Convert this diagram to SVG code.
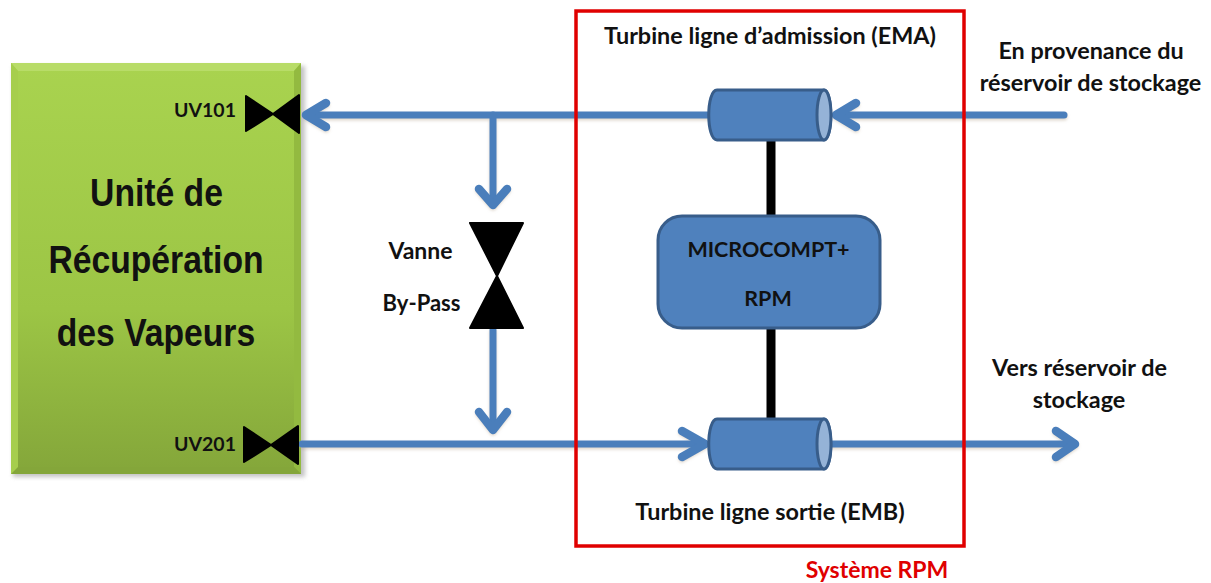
<svg xmlns="http://www.w3.org/2000/svg" width="1211" height="583" viewBox="0 0 1211 583">
<style>
text{font-family:Lato,"Open Sans","Liberation Sans",sans-serif;fill:#111;font-weight:700;font-size:23.400px;text-anchor:middle}
.big{font-family:"Liberation Sans",Arial,sans-serif;font-size:38.500px}
.uv{font-size:19.500px}
.pipe{fill:none;stroke:#4a7ebb;stroke-width:7;stroke-linecap:round;stroke-linejoin:round}
.head{stroke-width:8.500}
.under{fill:none;stroke:#b9a68f;stroke-width:7;stroke-linecap:round;stroke-linejoin:round;opacity:.45}
.cyl{fill:#4f81bd;stroke:#385d8a;stroke-width:3}
.end{fill:#95b3d7;stroke:#385d8a;stroke-width:3}
.shaft{stroke:#000;stroke-width:9;fill:none}
.v{fill:#000;stroke:#000;stroke-width:2;stroke-linejoin:round}
</style>
<defs>
<linearGradient id="g" x1="0" y1="0" x2="0" y2="1"><stop offset="0" stop-color="#a9d34f"/><stop offset="0.6" stop-color="#9cc545"/><stop offset="1" stop-color="#84a63a"/></linearGradient>
<filter id="s" x="-5%" y="-5%" width="112%" height="112%"><feGaussianBlur stdDeviation="2"/></filter>
<filter id="ps" x="-5%" y="-20%" width="110%" height="160%"><feGaussianBlur stdDeviation="1.500"/></filter>
</defs>
<g id="recuperation">
<rect x="13" y="66" width="292" height="411" fill="#888" opacity=".5" filter="url(#s)"/>
<rect x="11" y="63" width="290" height="411" fill="url(#g)"/>
<path d="M11 63H301L294 71H18Z" fill="#b8dc68"/>
<path d="M301 63V474L294 467V71Z" fill="#93ba40"/>
<path d="M11 474H301L294 467H18Z" fill="#84a63a"/>
<path d="M11 63V474L18 467V71Z" fill="#a6ce4d"/>
<text class="big" transform="translate(156.500 206) scale(.875 1)">Unité de</text>
<text class="big" transform="translate(156 273) scale(.875 1)">Récupération</text>
<text class="big" transform="translate(156 346) scale(.875 1)">des Vapeurs</text>
</g>
<g id="connectors">
<g filter="url(#ps)" transform="translate(0 2)">
<path class="under" d="M710 115H306M326 103L306 115L326 127M1064 115H836M856 103L836 115L856 127M493 115V205M479 189L493 205L507 189M493 330V430M479 412L493 430L507 412M302 444H705M682 431L705 444L682 457M832 444H1075M1056 431L1075 444L1056 457"/>
</g>
<path class="pipe" d="M710 115H306"/><path class="pipe head" d="M326 103L306 115L326 127"/>
<path class="pipe" d="M1064 115H836"/><path class="pipe head" d="M856 103L836 115L856 127"/>
<path class="pipe" d="M493 115V205"/><path class="pipe head" d="M479 189L493 205L507 189"/>
<path class="pipe" d="M493 330V430"/><path class="pipe head" d="M479 412L493 430L507 412"/>
<path class="pipe" d="M302 444H705"/><path class="pipe head" d="M682 431L705 444L682 457"/>
<path class="pipe" d="M832 444H1075"/><path class="pipe head" d="M1056 431L1075 444L1056 457"/>
<path class="shaft" d="M771 140V216M771 328V418"/>
</g>
<g id="uv101"><path class="v" d="M246 96L273 114L299 95V133L273 114L246 131Z"/><text class="uv" x="205" y="117">UV101</text></g>
<g id="uv201"><path class="v" d="M244 427L271 445L298 426V464L271 445L244 462Z"/><text class="uv" x="205" y="451">UV201</text></g>
<g id="bypass"><path class="v" d="M470 223H523L497 276L523 328H470L497 276Z"/><text x="420.500" y="259" style="font-size:23px">Vanne</text><text x="421.500" y="311" style="font-size:22px">By-Pass</text></g>
<g id="ema">
<path class="cyl" d="M717 90H824C833 90 833 140 824 140H717C706 140 706 90 717 90Z"/>
<ellipse class="end" cx="824" cy="115" rx="7" ry="25"/>
<text x="770" y="44">Turbine ligne d’admission (EMA)</text>
</g>
<g id="emb">
<path class="cyl" d="M717 419H824C833 419 833 469 824 469H717C706 469 706 419 717 419Z"/>
<ellipse class="end" cx="824" cy="444" rx="7" ry="25"/>
<text x="770" y="520">Turbine ligne sortie (EMB)</text>
</g>
<g id="microcompt">
<rect x="658" y="216" width="222" height="112" rx="24" fill="#4f81bd" stroke="#385d8a" stroke-width="3"/>
<text x="768.500" y="257" style="font-size:21.500px">MICROCOMPT+</text><text x="768" y="306" style="font-size:21.500px">RPM</text>
</g>
<g id="source"><text x="1091" y="59">En provenance du</text><text x="1090.500" y="91">réservoir de stockage</text></g>
<g id="dest"><text x="1079.500" y="376">Vers réservoir de</text><text x="1079" y="408">stockage</text></g>
<g id="systeme">
<rect x="576" y="11" width="388" height="535" fill="none" stroke="#e00000" stroke-width="3.500"/>
<text x="877" y="578" style="fill:#e00000;font-size:23px">Système RPM</text>
</g>
</svg>
